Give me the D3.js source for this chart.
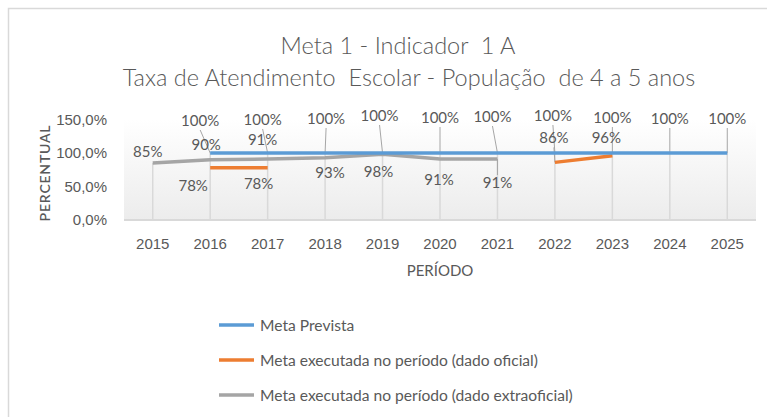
<!DOCTYPE html>
<html>
<head>
<meta charset="utf-8">
<script src="https://cdn.jsdelivr.net/npm/d3@7"></script>
<style>
  body { margin: 0; background: #fff; }
  svg { display: block; font-family: Lato, 'Open Sans', sans-serif; }
  .pre { white-space: pre; }
</style>
</head>
<body>
<div id="chart"></div>
<script>
const years = ['2015', '2016', '2017', '2018', '2019', '2020', '2021', '2022', '2023', '2024', '2025'];
const metaPrevista = [null, 100, 100, 100, 100, 100, 100, 100, 100, 100, 100];
const metaOficial = [null, 78, 78, null, null, null, null, 86, 96, null, null];
const metaExtraoficial = [85, 90, 91, 93, 98, 91, 91, null, null, null, null];
const yTicks = [0, 50, 100, 150];

const seriesNames = [
    'Meta Prevista',
    'Meta executada no período (dado oficial)',
    'Meta executada no período (dado extraoficial)'
];

// label nudges (px) relative to each point, like the manual placement in the original
const labelNudge = {
    prevista: [null, [-10, -32], [-5, -33], [1, -34], [-3, -37], [0, -35], [-5, -36], [-2, -37], [0, -35], [0, -34], [0, -34]],
    oficial: [null, [-17, 18], [-9, 16], null, null, null, null, [-1, -24], [-6, -18], null, null],
    extra: [[-5, -11], [-4, -15], [-5, -19], [5, 15], [-4, 18], [-1, 21], [0, 24], null, null, null, null]
};

const series = [
    { key: 'prevista', name: seriesNames[0], values: metaPrevista, color: '#5b9bd5' },
    { key: 'oficial', name: seriesNames[1], values: metaOficial, color: '#ed7d31' },
    { key: 'extra', name: seriesNames[2], values: metaExtraoficial, color: '#a5a5a5' }
];

const W = 767, H = 417;
const plot = { left: 124, right: 756, top: 119.5, bottom: 220 };
const textColor = '#595959';

const svg = d3.select('#chart').append('svg')
    .attr('width', W)
    .attr('height', H);

svg.append('rect')
    .attr('x', 8.5).attr('y', 8.5)
    .attr('width', 820).attr('height', 500)
    .attr('fill', '#fff')
    .attr('stroke', '#d9d9d9')
    .attr('stroke-width', 1.5);

const grad = svg.append('defs').append('linearGradient')
    .attr('id', 'plotbg').attr('x1', 0).attr('y1', 0).attr('x2', 0).attr('y2', 1);
grad.append('stop').attr('offset', '0%').attr('stop-color', '#ffffff');
grad.append('stop').attr('offset', '100%').attr('stop-color', '#ececec');

const x = d3.scaleBand().domain(years).range([plot.left, plot.right]);
const y = d3.scaleLinear().domain([0, 150]).range([plot.bottom, plot.top]);
const cx = d => x(d) + x.bandwidth() / 2;

// titles
svg.append('text')
    .attr('class', 'pre')
    .attr('x', 398).attr('y', 54)
    .attr('text-anchor', 'middle')
    .attr('font-size', 23.5)
    .attr('font-weight', 300)
    .attr('fill', textColor)
    .text('Meta 1 - Indicador  1 A');
svg.append('text')
    .attr('class', 'pre')
    .attr('x', 409).attr('y', 86)
    .attr('text-anchor', 'middle')
    .attr('font-size', 23.5)
    .attr('font-weight', 300)
    .attr('fill', textColor)
    .text('Taxa de Atendimento  Escolar - População  de 4 a 5 anos');

// plot background
svg.append('rect')
    .attr('x', plot.left).attr('y', plot.top)
    .attr('width', plot.right - plot.left)
    .attr('height', plot.bottom - plot.top)
    .attr('fill', 'url(#plotbg)');

// drop lines
svg.append('g').selectAll('line')
    .data(years)
    .enter()
    .append('line')
    .attr('x1', d => cx(d)).attr('x2', d => cx(d))
    .attr('y1', (d, i) => y(d3.max(series, s => s.values[i]) || 0))
    .attr('y2', plot.bottom)
    .attr('stroke', '#d9d9d9')
    .attr('stroke-width', 1.5);

// floor line
svg.append('line')
    .attr('x1', plot.left).attr('x2', plot.right)
    .attr('y1', plot.bottom).attr('y2', plot.bottom)
    .attr('stroke', '#d9d9d9')
    .attr('stroke-width', 2);

// y axis
const yAxis = svg.append('g')
    .attr('transform', `translate(${plot.left},0)`)
    .call(d3.axisLeft(y).tickValues(yTicks).tickSize(0).tickPadding(17)
        .tickFormat(d => d3.format('.1f')(d).replace('.', ',') + '%'));
yAxis.select('.domain').remove();
yAxis.selectAll('text').attr('font-size', 15).attr('fill', textColor).attr('font-family', null);

// x axis
const xAxis = svg.append('g')
    .attr('transform', `translate(0,${plot.bottom})`)
    .call(d3.axisBottom(x).tickSize(0).tickPadding(18));
xAxis.select('.domain').remove();
xAxis.selectAll('text').attr('font-size', 15).attr('fill', textColor).attr('font-family', null);

svg.append('text')
    .attr('x', 440).attr('y', 276)
    .attr('text-anchor', 'middle')
    .attr('font-size', 15)
    .attr('fill', textColor)
    .text('PERÍODO');

svg.append('text')
    .attr('transform', 'translate(50,173) rotate(-90)')
    .attr('text-anchor', 'middle')
    .attr('font-size', 14)
    .attr('font-weight', 600)
    .attr('letter-spacing', 0.8)
    .attr('fill', textColor)
    .text('PERCENTUAL');

// leader lines
const leaders = [];
series.forEach(s => {
    s.values.forEach((v, i) => {
        const n = labelNudge[s.key][i];
        if (v == null || !n || Math.abs(n[1]) < 22) return;
        const px = cx(years[i]), py = y(v);
        const ly = n[1] < 0 ? py + n[1] + 9 : py + n[1] - 8;
        leaders.push({ x1: px + n[0], y1: ly, x2: px, y2: py });
    });
});
svg.append('g').selectAll('line')
    .data(leaders)
    .enter()
    .append('line')
    .attr('x1', d => d.x1).attr('y1', d => d.y1)
    .attr('x2', d => d.x2).attr('y2', d => d.y2)
    .attr('stroke', '#a6a6a6')
    .attr('stroke-width', 1);

// series lines
const line = d3.line()
    .defined(d => d.v != null)
    .x(d => cx(d.year))
    .y(d => y(d.v));

series.slice().reverse().forEach(s => {
    svg.append('path')
        .datum(s.values.map((v, i) => ({ year: years[i], v })))
        .attr('fill', 'none')
        .attr('stroke', s.color)
        .attr('stroke-width', 3.5)
        .attr('d', line);
});

// data labels
series.forEach(s => {
    const pts = s.values.map((v, i) => ({ year: years[i], v, n: labelNudge[s.key][i] }))
        .filter(d => d.v != null);
    svg.append('g').selectAll('text')
        .data(pts)
        .enter()
        .append('text')
        .attr('x', d => cx(d.year) + d.n[0])
        .attr('y', d => y(d.v) + d.n[1] + 5)
        .attr('text-anchor', 'middle')
        .attr('font-size', 15)
        .attr('fill', textColor)
        .text(d => d.v + '%');
});

// legend
const legend = svg.append('g').attr('transform', 'translate(219,325)');
const li = legend.selectAll('g')
    .data(series)
    .enter()
    .append('g')
    .attr('transform', (d, i) => `translate(0,${i * 35})`);
li.append('line')
    .attr('x1', 0).attr('x2', 35)
    .attr('stroke', d => d.color)
    .attr('stroke-width', 3.5);
li.append('text')
    .attr('x', 41).attr('y', 5.5)
    .attr('font-size', 15.6)
    .attr('fill', textColor)
    .text(d => d.name);
</script>
</body>
</html>
